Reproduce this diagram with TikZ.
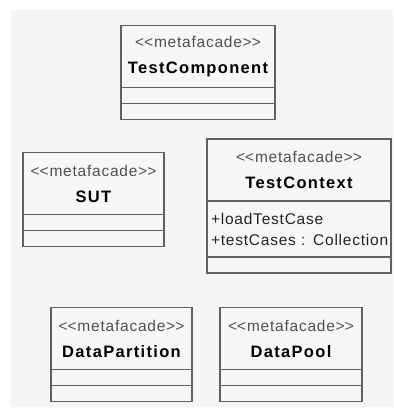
\documentclass[tikz,border=0pt]{standalone}
\usepackage{fontspec}
\setmainfont{Liberation Sans}
\newfontfamily\umlfont[LetterSpace=5]{Liberation Sans}
\newfontfamily\umlname[LetterSpace=8]{Liberation Sans}
\definecolor{panelgray}{HTML}{F5F5F5}
\definecolor{boxgray}{HTML}{F7F7F7}
\definecolor{linegray}{HTML}{606060}
\definecolor{stereogray}{HTML}{505050}
\definecolor{attrcol}{HTML}{2A2222}
\newcommand{\stereo}{{\umlfont\fontsize{15.5}{26}\selectfont\color{stereogray}<\kern0pt<metafacade>\kern0pt>}}
\newcommand{\cname}[1]{{\umlname\bfseries\fontsize{16.5}{26}\selectfont #1}}

\begin{document}
\begin{tikzpicture}[x=1pt,y=-1pt]
        % Define styles
        \tikzset{
            header/.style={rectangle, draw=linegray, fill=boxgray, line width=1.2pt, inner sep=0pt, outer sep=0pt, minimum height=62pt, align=center, font=\fontsize{15}{26}\selectfont},
            compartment/.style={rectangle, draw=linegray, fill=boxgray, line width=1.2pt, inner sep=0pt, outer sep=0pt, minimum height=16pt, anchor=north},
            attributes/.style={rectangle, draw=linegray, fill=boxgray, line width=1.2pt, inner xsep=4pt, inner ysep=0pt, outer sep=0pt, minimum height=56pt, anchor=north, align=left, text=attrcol, font=\umlfont\fontsize{15.5}{21}\selectfont}
        }
        \useasboundingbox (0,0) rectangle (393,409);
        \fill[panelgray] (11,10) rectangle (393,407);

        % TestComponent
        \node[header, minimum width=154pt] (comp_head) at (198,56.5) {\stereo \\ \cname{TestComponent}};
        \node[compartment, minimum width=154pt] (comp_attr) at (comp_head.south) {};
        \node[compartment, minimum width=154pt] (comp_ops) at (comp_attr.south) {};

        % SUT
        \node[header, minimum width=141pt] (sut_head) at (93.5,183.5) {\stereo \\ \cname{SUT}};
        \node[compartment, minimum width=141pt] (sut_attr) at (sut_head.south) {};
        \node[compartment, minimum width=141pt] (sut_ops) at (sut_attr.south) {};

        % TestContext
        \node[header, minimum width=184pt] (ctx_head) at (299,170) {\stereo \\ \cname{TestContext}};
        \node[attributes, text width=176pt] (ctx_attr) at (ctx_head.south) {+loadTestCase\\+testCases : Collection};
        \node[compartment, minimum width=184pt] (ctx_ops) at (ctx_attr.south) {};

        % DataPartition
        \node[header, minimum width=141pt] (part_head) at (121.5,338.5) {\stereo \\ \cname{DataPartition}};
        \node[compartment, minimum width=141pt] (part_attr) at (part_head.south) {};
        \node[compartment, minimum width=141pt] (part_ops) at (part_attr.south) {};

        % DataPool
        \node[header, minimum width=142pt] (pool_head) at (291,338.5) {\stereo \\ \cname{DataPool}};
        \node[compartment, minimum width=142pt] (pool_attr) at (pool_head.south) {};
        \node[compartment, minimum width=142pt] (pool_ops) at (pool_attr.south) {};
    \end{tikzpicture}
\end{document}
